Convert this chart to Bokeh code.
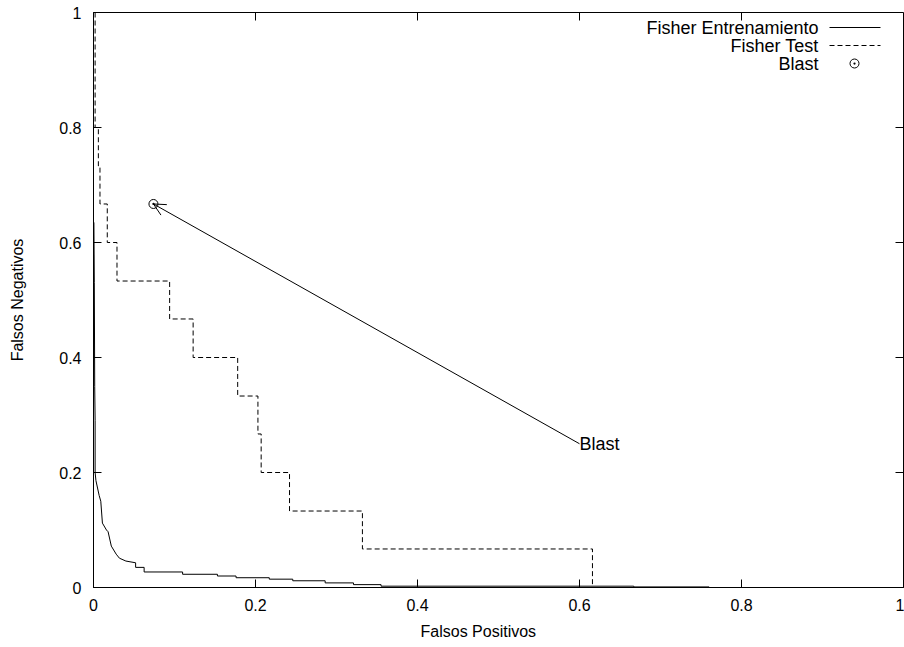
from bokeh.plotting import figure
from bokeh.models import Range1d, FixedTicker, Arrow, OpenHead, Label, Title
from bokeh.embed import file_html
from bokeh.resources import INLINE

# ---- data ----
train_fp = [0.0005, 0.001, 0.0015, 0.002, 0.002, 0.003, 0.007, 0.009, 0.011, 0.016, 0.018,
            0.022, 0.028, 0.032, 0.040, 0.052, 0.052, 0.0625, 0.0625, 0.110, 0.110, 0.153,
            0.153, 0.176, 0.176, 0.217, 0.217, 0.246, 0.246, 0.286, 0.286, 0.321, 0.321,
            0.355, 0.355, 0.667, 0.667, 0.76, 0.76, 1.0]
train_fn = [0.635, 0.53, 0.35, 0.29, 0.20, 0.186, 0.16, 0.15, 0.112, 0.10, 0.097,
            0.072, 0.058, 0.051, 0.046, 0.043, 0.035, 0.035, 0.027, 0.027, 0.023, 0.023,
            0.020, 0.020, 0.017, 0.017, 0.0145, 0.0145, 0.0117, 0.0117, 0.008, 0.008, 0.005,
            0.005, 0.0023, 0.0023, 0.001, 0.001, 0.0, 0.0]

# step ("after") points of the test curve
test_fp = [0.002, 0.002, 0.006, 0.008, 0.017, 0.029, 0.094, 0.123, 0.178, 0.203, 0.207,
           0.242, 0.332, 0.616, 1.0]
test_fn = [1.0, 0.8, 0.733, 0.667, 0.6, 0.533, 0.467, 0.4, 0.333, 0.267, 0.2,
           0.133, 0.067, 0.0, 0.0]

blast_fp = [0.074]
blast_fn = [0.667]
blast_label_pos = (0.6, 0.25)

x_ticks = [0, 0.2, 0.4, 0.6, 0.8, 1]
x_tick_labels = ["0", "0.2", "0.4", "0.6", "0.8", "1"]
y_ticks = [0, 0.2, 0.4, 0.6, 0.8, 1]
y_tick_labels = ["0", "0.2", "0.4", "0.6", "0.8", "1"]

legend_names = ["Fisher Entrenamiento", "Fisher Test", "Blast"]
x_title = "Falsos Positivos"
y_title = "Falsos Negativos"

FONT = "Liberation Sans"
FS = "16px"
FS_KEY = "18px"

# layout (pixels)
W, H = 904, 647
LEFT, RIGHT, TOP, BOTTOM = 93, 1, 12, 60
FW, FH = W - LEFT - RIGHT, H - TOP - BOTTOM
TICK = 8

p = figure(width=W, height=H, x_range=Range1d(0, 1), y_range=Range1d(0, 1),
           output_backend="svg", toolbar_location=None,
           min_border_left=LEFT, min_border_right=RIGHT, min_border_top=TOP,
           min_border_bottom=BOTTOM)
p.background_fill_color = "white"
p.border_fill_color = "white"
p.outline_line_color = "black"
p.outline_line_width = 1
p.xgrid.visible = False
p.ygrid.visible = False

for ax, ticks, labels in ((p.xaxis[0], x_ticks, x_tick_labels), (p.yaxis[0], y_ticks, y_tick_labels)):
    ax.ticker = FixedTicker(ticks=ticks)
    ax.major_label_overrides = {t: l for t, l in zip(ticks, labels)}
    ax.major_tick_in = TICK
    ax.major_tick_out = 0
    ax.minor_tick_line_color = None
    ax.major_tick_line_color = "black"
    ax.axis_line_color = "black"
    ax.major_label_text_font = FONT
    ax.major_label_text_font_size = FS
    ax.major_label_text_color = "black"
    ax.axis_label_text_font = FONT
    ax.axis_label_text_font_size = FS
    ax.axis_label_text_font_style = "normal"
    ax.axis_label_text_color = "black"
p.yaxis.axis_label = y_title
p.xaxis.major_label_standoff = 11
p.yaxis.major_label_standoff = 12
p.yaxis.axis_label_standoff = 30

# x title placed as a bottom title, offset to where the reference draws it
p.add_layout(Title(text=x_title, align="left", offset=327, standoff=15,
                   text_font=FONT, text_font_size=FS, text_font_style="normal",
                   text_color="black"), "below")

# mirror ticks on top and right edges
dx = TICK / FW
dy = TICK / FH
p.segment(x0=x_ticks, y0=[1] * len(x_ticks), x1=x_ticks, y1=[1 - dy] * len(x_ticks),
          line_color="black", line_width=1)
p.segment(x0=[1] * len(y_ticks), y0=y_ticks, x1=[1 - dx] * len(y_ticks), y1=y_ticks,
          line_color="black", line_width=1)


def px_to_x(px):
    return (px - LEFT) / FW


def py_to_y(py):
    return (TOP + FH - py) / FH


# curves
p.line(train_fp, train_fn, line_color="black", line_width=1)
p.step(test_fp, test_fn, mode="after", line_color="black", line_width=1, line_dash="5 3")
p.scatter(blast_fp, blast_fn, marker="circle_dot", size=9, line_color="black",
          fill_color=None, line_width=1)

# annotation arrow + label
p.add_layout(Arrow(end=OpenHead(size=12, line_width=1, line_color="black"),
                   x_start=blast_label_pos[0], y_start=blast_label_pos[1],
                   x_end=blast_fp[0], y_end=blast_fn[0], line_width=1, line_color="black"))
p.add_layout(Label(x=blast_label_pos[0], y=blast_label_pos[1], text="Blast",
                   text_font=FONT, text_font_size=FS_KEY, text_align="left",
                   text_baseline="middle", text_color="black"))

# gnuplot-style key (text right-aligned, sample on the right)
key_text_x = px_to_x(818)
key_s0, key_s1, key_mid = px_to_x(829), px_to_x(880), px_to_x(854)
key_rows = [py_to_y(27), py_to_y(45), py_to_y(63)]
for name, ky in zip(legend_names, key_rows):
    p.add_layout(Label(x=key_text_x, y=ky, text=name, text_font=FONT, text_font_size=FS_KEY,
                       text_align="right", text_baseline="middle", text_color="black"))
p.segment(x0=[key_s0], y0=[key_rows[0]], x1=[key_s1], y1=[key_rows[0]],
          line_color="black", line_width=1)
p.segment(x0=[key_s0], y0=[key_rows[1]], x1=[key_s1], y1=[key_rows[1]],
          line_color="black", line_width=1, line_dash="5 3")
p.scatter([key_mid], [key_rows[2]], marker="circle_dot", size=9, line_color="black",
          fill_color=None, line_width=1)

open("out.html", "w").write(file_html(p, INLINE))
